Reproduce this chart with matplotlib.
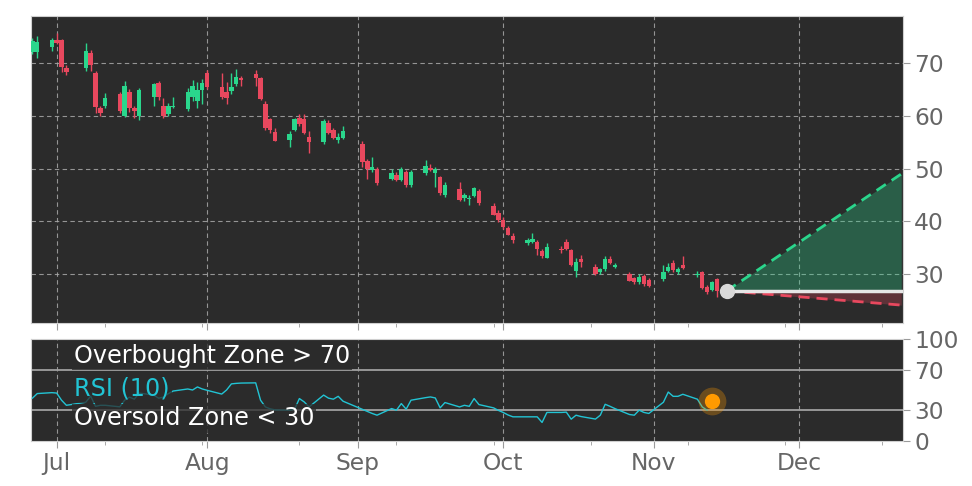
import matplotlib
matplotlib.use('Agg')
import matplotlib.pyplot as plt
import matplotlib.dates as mdates
from matplotlib.ticker import FixedLocator
from datetime import datetime, timedelta
import numpy as np

# ---------------- data ----------------
dates = ['2025-06-26', '2025-06-27', '2025-06-30',
         '2025-07-01', '2025-07-02', '2025-07-03', '2025-07-07', '2025-07-08', '2025-07-09', '2025-07-10', '2025-07-11',
         '2025-07-14', '2025-07-15', '2025-07-16', '2025-07-17', '2025-07-18', '2025-07-21', '2025-07-22', '2025-07-23',
         '2025-07-24', '2025-07-25', '2025-07-28', '2025-07-29', '2025-07-30', '2025-07-31',
         '2025-08-01', '2025-08-04', '2025-08-05', '2025-08-06', '2025-08-07', '2025-08-08', '2025-08-11', '2025-08-12',
         '2025-08-13', '2025-08-14', '2025-08-15', '2025-08-18', '2025-08-19', '2025-08-20', '2025-08-21', '2025-08-22',
         '2025-08-25', '2025-08-26', '2025-08-27', '2025-08-28', '2025-08-29',
         '2025-09-02', '2025-09-03', '2025-09-04', '2025-09-05', '2025-09-08', '2025-09-09', '2025-09-10', '2025-09-11',
         '2025-09-12', '2025-09-15', '2025-09-16', '2025-09-17', '2025-09-18', '2025-09-19', '2025-09-22', '2025-09-23',
         '2025-09-24', '2025-09-25', '2025-09-26', '2025-09-29', '2025-09-30',
         '2025-10-01', '2025-10-02', '2025-10-03', '2025-10-06', '2025-10-07', '2025-10-08', '2025-10-09', '2025-10-10',
         '2025-10-13', '2025-10-14', '2025-10-15', '2025-10-16', '2025-10-17', '2025-10-20', '2025-10-21', '2025-10-22',
         '2025-10-23', '2025-10-24', '2025-10-27', '2025-10-28', '2025-10-29', '2025-10-30', '2025-10-31',
         '2025-11-03', '2025-11-04', '2025-11-05', '2025-11-06', '2025-11-07', '2025-11-10', '2025-11-11', '2025-11-12',
         '2025-11-13', '2025-11-14']

opens = [72.2, 72.2, 73.1,
         74.4, 74.4, 69.1, 69.2, 72.0, 68.2, 61.6, 62.0,
         64.2, 60.1, 64.6, 61.5, 60.1, 63.7, 66.3, 62.0,
         60.3, 61.8, 61.3, 63.7, 62.9, 65.0,
         68.1, 65.6, 64.5, 64.7, 66.0, 67.3, 67.9, 67.3,
         62.3, 59.4, 57.0, 55.5, 57.4, 59.7, 59.4, 56.1,
         55.0, 58.7, 57.4, 55.5, 55.9,
         54.7, 51.4, 49.8, 50.0, 48.0, 48.9, 47.8, 49.4,
         46.9, 49.1, 50.1, 49.1, 48.4, 45.0, 46.2, 44.5,
         44.2, 44.8, 45.7, 43.0, 41.6,
         40.3, 38.8, 37.2, 35.8, 36.1, 36.1, 34.4, 33.1,
         34.8, 36.1, 34.5, 30.6, 32.8, 31.4, 30.3, 30.9,
         32.8, 31.4, 30.0, 29.2, 28.4, 29.6, 28.9,
         29.0, 30.6, 32.0, 30.4, 31.7, 29.9, 30.3, 27.6,
         27.0, 29.0]

highs = [74.8, 75.2, 74.8,
         75.7, 74.6, 69.7, 73.9, 72.5, 68.5, 62.0, 64.4,
         64.5, 66.6, 65.2, 62.0, 65.3, 66.3, 66.6, 63.4,
         62.5, 63.7, 65.3, 66.8, 66.5, 67.1,
         68.7, 68.1, 66.5, 68.1, 69.0, 67.7, 68.7, 67.4,
         62.8, 59.7, 57.7, 57.1, 59.7, 60.3, 60.3, 57.1,
         59.4, 59.2, 57.7, 56.8, 58.1,
         55.3, 51.9, 52.2, 50.3, 50.0, 49.4, 50.3, 49.7,
         49.7, 51.6, 50.8, 50.3, 48.7, 47.5, 47.5, 45.3,
         45.0, 46.5, 46.1, 43.4, 42.1,
         40.8, 39.1, 37.7, 36.9, 37.7, 36.4, 34.7, 35.9,
         35.3, 36.7, 34.7, 33.0, 33.6, 31.9, 31.2, 33.4,
         33.4, 32.0, 30.4, 29.5, 30.0, 30.0, 29.2,
         31.7, 32.0, 32.6, 31.3, 33.4, 30.6, 30.6, 27.9,
         28.7, 29.2]

lows = [71.8, 71.0, 72.3,
        73.7, 68.4, 67.8, 68.6, 68.5, 60.6, 60.0, 61.5,
        60.6, 59.9, 60.8, 59.6, 59.3, 62.0, 63.1, 59.6,
        60.0, 61.5, 61.0, 62.9, 61.6, 62.3,
        65.2, 63.2, 62.3, 64.2, 65.8, 65.8, 65.8, 63.0,
        57.4, 56.8, 55.2, 54.2, 57.1, 58.1, 56.5, 52.9,
        54.6, 56.5, 55.6, 54.8, 55.6,
        50.3, 48.1, 49.4, 47.0, 47.8, 47.6, 47.6, 46.5,
        46.6, 48.9, 49.5, 46.5, 45.1, 44.7, 43.8, 43.8,
        43.1, 44.6, 43.2, 41.2, 39.9,
        38.6, 37.4, 35.8, 35.5, 35.8, 33.6, 33.0, 33.0,
        34.0, 34.6, 31.5, 29.5, 31.4, 29.8, 30.0, 30.6,
        31.9, 31.1, 28.6, 28.2, 28.2, 27.7, 27.6,
        28.7, 30.3, 30.4, 30.1, 30.9, 29.5, 27.1, 26.2,
        26.7, 25.7]

closes = [74.3, 74.1, 74.4,
          73.9, 69.3, 68.3, 72.4, 69.6, 61.8, 60.6, 63.5,
          61.0, 65.8, 61.5, 61.0, 65.0, 66.0, 63.7, 60.1,
          62.0, 62.0, 64.5, 65.8, 65.0, 66.3,
          65.6, 63.7, 63.5, 65.5, 67.4, 66.9, 67.3, 63.2,
          57.7, 57.4, 55.3, 56.6, 59.4, 58.4, 56.8, 55.0,
          59.0, 56.8, 55.9, 56.1, 57.2,
          51.3, 50.0, 50.3, 47.2, 49.1, 47.8, 50.0, 46.9,
          49.4, 50.5, 49.7, 50.0, 45.3, 47.0, 44.0, 45.0,
          44.5, 46.4, 43.4, 41.3, 40.2,
          38.9, 37.5, 36.4, 36.5, 36.7, 34.7, 33.4, 35.2,
          34.6, 34.8, 31.7, 32.3, 32.3, 30.1, 30.9, 32.8,
          32.1, 31.7, 28.7, 28.4, 29.5, 28.2, 27.8,
          30.4, 31.4, 30.8, 30.9, 31.1, 30.1, 27.3, 26.5,
          28.4, 26.8]

rsi_values = [42, 46.5, 47.4,
              47, 40, 35, 38, 44, 34, 35, 35,
              33.5, 40, 43, 41, 47, 45, 42, 43,
              46.4, 49, 51, 50, 53, 51,
              49.7, 46, 50, 56, 56.5, 56.8, 57, 40,
              33.4, 31.5, 30.5, 30.2, 31, 41.6, 38.3, 33.4,
              45, 42, 41, 43.8, 39,
              31, 29, 27, 25.3, 31.8, 30.2, 36.7, 31.2,
              40, 42.5, 43.2, 42.2, 32.5, 37.7, 33.4, 35,
              34, 41.6, 35.7, 32.5, 30,
              28, 25.5, 23.7, 23.7, 23.7, 23.7, 18.2, 28,
              28, 28.3, 21.4, 25.3, 24, 21.5, 25.3, 36,
              34, 31.8, 26, 25.3, 30.2, 28, 27,
              38, 48, 43.8, 43.8, 45.8, 41, 33.4, 30.2]

rsi_last_date = '2025-11-13'
rsi_last_value = 39

forecast_dates = ['2025-11-16', '2025-12-22']
forecast_base = [26.8, 26.8]
forecast_high = [26.8, 49.0]
forecast_low = [26.8, 24.1]

price_ticks = [30, 40, 50, 60, 70]
rsi_ticks = [0, 30, 70, 100]
rsi_levels = [70, 30]
minor_tick_dates = ['2025-07-11', '2025-07-31', '2025-08-20', '2025-09-09', '2025-09-29',
                    '2025-10-19', '2025-11-08', '2025-11-28', '2025-12-18']
rsi_texts = ['Overbought Zone > 70', 'RSI (10)', 'Oversold Zone < 30']

# ---------------- style ----------------
BG = '#2b2b2b'
GREEN = '#2ad68c'
RED = '#e8485e'
CYAN = '#22c4d4'
TICKC = '#666666'
GRIDC = '#a8a8a8'

def to_num(ds):
    return mdates.date2num([datetime.strptime(d, '%Y-%m-%d') for d in ds])

x = to_num(dates)
o = np.array(opens); h = np.array(highs); l = np.array(lows); c = np.array(closes)
fx = to_num(forecast_dates)

x_left = to_num(['2025-07-01'])[0] - 5.29
x_right = fx[-1] + 0.36

fig = plt.figure(figsize=(9.72, 4.86), dpi=100)
fig.patch.set_facecolor('white')
W, H = 972, 486
ax = fig.add_axes([31 / W, 1 - 323 / H, 872 / W, 307 / H])
ax2 = fig.add_axes([31 / W, 1 - 441 / H, 872 / W, 102 / H])

for a in (ax, ax2):
    a.set_facecolor(BG)
    for s in a.spines.values():
        s.set_color('#cfcfcf')
        s.set_linewidth(0.8)
    a.set_xlim(x_left, x_right)
    a.xaxis.set_major_locator(mdates.MonthLocator())
    a.xaxis.set_major_formatter(mdates.DateFormatter('%b'))
    a.xaxis.set_minor_locator(FixedLocator(to_num(minor_tick_dates)))
    a.yaxis.tick_right()
    a.tick_params(axis='both', which='major', length=5, color='#9a9a9a', labelcolor=TICKC,
                  labelsize=16.8, pad=3)
    a.tick_params(axis='both', which='minor', length=3, color='#9a9a9a')
    a.grid(which='major', axis='x', ls=(0, (4, 3)), color=GRIDC, lw=0.8, alpha=0.85)
    a.set_axisbelow(True)

# ---------------- main price panel ----------------
ax.set_ylim(20.7, 79.0)
ax.set_yticks(price_ticks)
ax.grid(which='major', axis='y', ls=(0, (4, 3)), color=GRIDC, lw=0.8, alpha=0.85)
ax.tick_params(axis='x', labelbottom=False)

colors = np.where(c >= o, GREEN, RED)
ax.vlines(x, l, h, colors=colors, lw=1.0, zorder=3)
body = np.maximum(np.abs(c - o), 0.18)
ax.bar(x, body, bottom=np.minimum(o, c), width=0.9, color=colors, zorder=4, linewidth=0)

# forecast cone
ax.fill_between(fx, forecast_base, forecast_high, color=GREEN, alpha=0.3, lw=0, zorder=2)
ax.fill_between(fx, forecast_base, forecast_low, color=RED, alpha=0.27, lw=0, zorder=2)
ax.plot(fx, forecast_high, ls=(0, (4, 2.5)), color=GREEN, lw=2, zorder=5)
ax.plot(fx, forecast_low, ls=(0, (4, 2.5)), color=RED, lw=2, zorder=5)
ax.plot(fx, forecast_base, color='#e6e6e6', lw=2.5, zorder=5)
ax.plot(fx[0], forecast_base[0], 'o', ms=10, color='#d9d9d9', zorder=6)

# ---------------- RSI panel ----------------
ax2.set_ylim(0, 100)
ax2.set_yticks(rsi_ticks)
for lv in rsi_levels:
    ax2.axhline(lv, color='#a0a0a0', lw=1.3, zorder=2)
ax2.plot(x[:len(rsi_values)], rsi_values, color=CYAN, lw=1.0, zorder=3)
rx = to_num([rsi_last_date])[0]
ax2.plot(rx, rsi_last_value, 'o', ms=20, color='#ff9a00', alpha=0.3, zorder=4, mec='none')
ax2.plot(rx, rsi_last_value, 'o', ms=11, color='#ff9a00', zorder=5, mec='none')

box = dict(facecolor=BG, alpha=0.75, edgecolor='none', pad=1.5)
ypos = [0.835, 0.515, 0.222]
tcolors = ['white', CYAN, 'white']
for t, yp, tc in zip(rsi_texts, ypos, tcolors):
    ax2.text(0.049, yp, t, transform=ax2.transAxes, color=tc, fontsize=17.2,
             va='center', ha='left', bbox=box, zorder=6)

fig.savefig('out.png', dpi=100, facecolor='white')
